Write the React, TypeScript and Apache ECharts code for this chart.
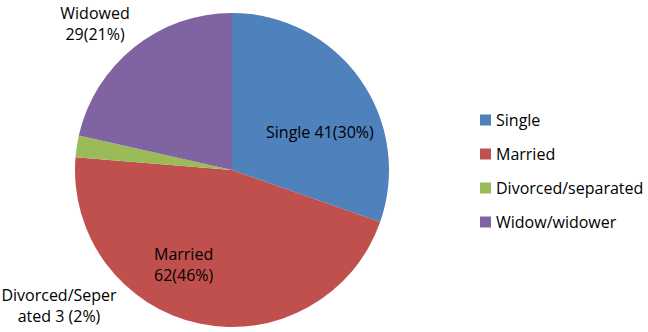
import React, { useEffect, useRef } from "react";
import * as echarts from "echarts";

const categories = ["Single", "Married", "Divorced/separated", "Widow/widower"];
const values = [41, 62, 3, 29];
const labelNames = ["Single ", "Married\n", "Divorced/Seper\nated ", "Widowed\n"];
const labelGaps = ["", "", " ", ""];
const colors = ["#4F81BD", "#C0504D", "#9BBB59", "#8064A2"];
const labelPos = [
  { x: 266, y: 132, align: "left" },
  { x: 154, y: 264, align: "left" },
  { x: 59, y: 305, align: "center" },
  { x: 95, y: 23, align: "center" },
];

const FONT = "'Open Sans', Lato, sans-serif";

export default function App() {
  const ref = useRef<HTMLDivElement>(null);
  useEffect(() => {
    document.body.style.margin = "0";
    const chart = echarts.init(ref.current!, null, { renderer: "svg" });
    const total = values.reduce((a, b) => a + b, 0);
    chart.setOption({
      animation: false,
      color: colors,
      legend: {
        orient: "vertical",
        left: 480,
        top: 112,
        padding: 0,
        itemWidth: 11,
        itemHeight: 11,
        itemGap: 18,
        icon: "rect",
        data: categories,
        textStyle: { fontFamily: FONT, fontSize: 16, color: "#000", lineHeight: 16 },
      },
      series: [
        {
          type: "pie",
          center: [232, 170],
          radius: 157,
          startAngle: 90,
          clockwise: true,
          data: categories.map((c, i) => ({ name: c, value: values[i] })),
          label: {
            show: true,
            fontFamily: FONT,
            fontSize: 16,
            lineHeight: 21,
            color: "#000",
            overflow: "none",
            formatter: (p: any) =>
              `${labelNames[p.dataIndex]}${values[p.dataIndex]}${labelGaps[p.dataIndex]}(${Math.round(
                (values[p.dataIndex] / total) * 100
              )}%)`,
          },
          labelLine: { show: false },
          labelLayout: (p: any) => ({
            x: labelPos[p.dataIndex].x,
            y: labelPos[p.dataIndex].y,
            align: labelPos[p.dataIndex].align,
            verticalAlign: "middle",
            width: 200,
          }),
          itemStyle: { borderWidth: 0 },
          emphasis: { disabled: true },
        },
      ],
    });
    return () => chart.dispose();
  }, []);
  return <div ref={ref} style={{ width: 648, height: 332 }} />;
}
